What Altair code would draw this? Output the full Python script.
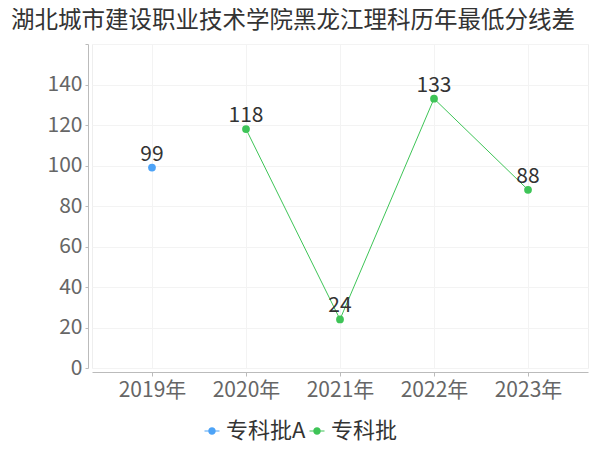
import altair as alt
import pandas as pd

years = ["2019年", "2020年", "2021年", "2022年", "2023年"]
series_names = ["专科批A", "专科批"]
series_a_years = ["2019年"]
series_a_values = [99]
series_b_years = ["2020年", "2021年", "2022年", "2023年"]
series_b_values = [118, 24, 133, 88]
colors = ["#4da3f7", "#3ec457"]

rows = []
for y, v in zip(series_a_years, series_a_values):
    rows.append({"year": y, "value": v, "series": series_names[0]})
for y, v in zip(series_b_years, series_b_values):
    rows.append({"year": y, "value": v, "series": series_names[1]})
df = pd.DataFrame(rows)

FONT = "Noto Sans CJK SC"

x = alt.X("year:N", sort=years, scale=alt.Scale(type="point", padding=0.638, domain=years),
          axis=alt.Axis(title=None, offset=4, tickSize=4, labelPadding=3, labelAngle=0,
                        grid=True, gridColor="#f3f3f3", domainColor="#bbbbbb",
                        tickColor="#bbbbbb", labelColor="#666666", labelFontSize=21,
                        labelFont=FONT))
y = alt.Y("value:Q", scale=alt.Scale(domain=[0, 160], nice=False),
          axis=alt.Axis(title=None, values=list(range(0, 161, 20)), offset=4, tickSize=3,
                        labelPadding=3, grid=True, gridColor="#f3f3f3",
                        domainColor="#bbbbbb", tickColor="#bbbbbb", labelColor="#666666",
                        labelFontSize=21, labelFont=FONT,
                        labelExpr="datum.value == 160 ? '' : datum.label"))

color_scale = alt.Scale(domain=series_names, range=colors)
sym_path = ("M-1,-0.07L1,-0.07L1,0.07L-1,0.07Z"
            "M0.5,0A0.5,0.5 0 1 1 -0.5,0A0.5,0.5 0 1 1 0.5,0Z")

legend = alt.Legend(title=None, orient="none", legendX=109, legendY=376, direction="horizontal",
                    symbolType=sym_path, symbolSize=225, symbolStrokeWidth=0,
                    symbolOpacity=1,
                    labelFontSize=22, labelFont=FONT, labelColor="#333333",
                    labelOffset=3)

base = alt.Chart(df)
line = base.mark_line(strokeWidth=1).encode(
    x=x, y=y, color=alt.Color("series:N", scale=color_scale, legend=legend))
pts = base.mark_point(filled=True, size=60, opacity=1).encode(
    x=x, y=y, color=alt.Color("series:N", scale=color_scale, legend=legend))
labels = base.mark_text(dy=-7, baseline="alphabetic", fontSize=21, font=FONT,
                        color="#333333").encode(x=x, y=y, text="value:Q")

chart = (line + pts + labels).properties(
    width=496, height=324,
    title=alt.TitleParams("湖北城市建设职业技术学院黑龙江理科历年最低分线差",
                          anchor="start", dx=-36, offset=11,
                          fontSize=23.5, font=FONT, fontWeight="normal", color="#333333"),
    autosize=alt.AutoSizeParams(type="none"),
    padding={"left": 84, "top": 36, "right": 4, "bottom": 80},
).configure_view(stroke="#eeeeee").configure_legend(columnPadding=0)

chart.save("out.html", embed_options={"renderer": "svg", "actions": False})
